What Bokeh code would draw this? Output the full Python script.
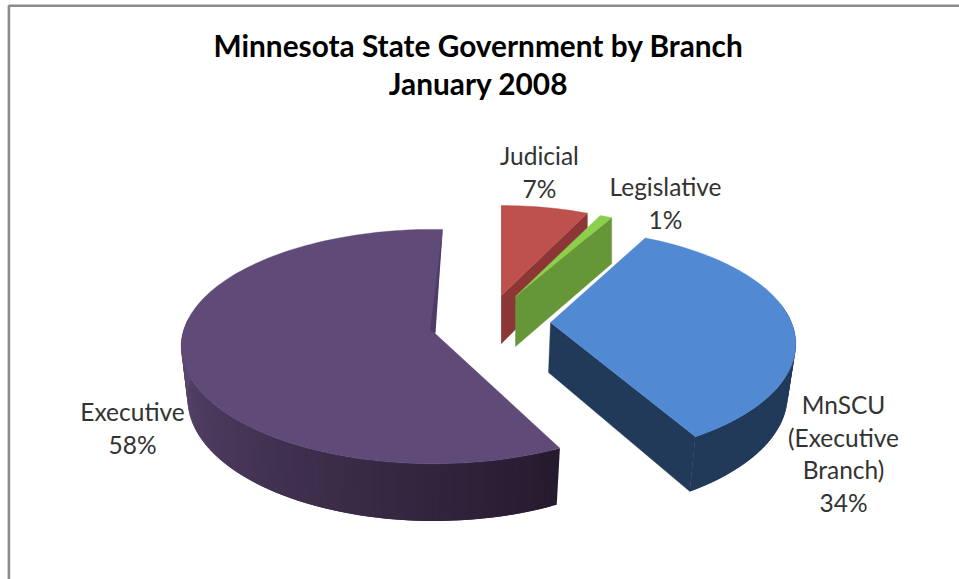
import numpy as np
from bokeh.core.properties import value
from bokeh.embed import file_html
from bokeh.models import ColumnDataSource, Range1d
from bokeh.plotting import figure
from bokeh.resources import INLINE

# Shares of state government, clockwise from twelve o'clock
categories = ["Judicial", "Legislative", "MnSCU", "Executive"]
shares = [7, 1, 34, 58]
label_lines = [["Judicial"], ["Legislative"], ["MnSCU", "(Executive", "Branch)"], ["Executive"]]
title_lines = ["Minnesota State Government by Branch", "January 2008"]

# Drawing parameters of each exploded slice: apex, radii, perspective, height,
# turn of the whole slice, and how the lower rim narrows and shifts
SLICES = {
    "Judicial": dict(ax=501, ay=295, rx=225, ry=101.5, k=0.128, h=48, turn=0, sx=1.0, dx=0,
                     top="#BE504D", side="#8C3735", wall=("#8C3735", "#8C3735"),
                     faces=("start", "end")),
    "Legislative": dict(ax=515, ay=296, rx=222, ry=100, k=0.128, h=50, turn=0, sx=1.0, dx=0,
                        top="#8CCF4D", side="#659637", wall=("#659637", "#659637"),
                        faces=("end",)),
    "MnSCU": dict(ax=550, ay=322, rx=241, ry=111, k=0.187, h=50, turn=-1.5, sx=0.975, dx=-2,
                  top="#5289D3", side="#223A5A", wall=("#223A5A", "#223A5A"),
                  faces=("end",)),
    "Executive": dict(ax=433.5, ay=332, rx=251, ry=115.5, k=0.12, h=51.5, turn=2.2, sx=0.975, dx=0,
                      top="#5F4A78", side="#4E3B66", wall=("#261A2E", "#5A466F"),
                      faces=(), notch=(-4, -2, 1.5, 1)),
}
LABEL_ANCHORS = {
    "Judicial": (539, 155),
    "Legislative": (665, 186),
    "MnSCU": (843, 404),
    "Executive": (132, 411),
}
LINE_STEP = 32.6
FONT = "Lato"
STEP = 1.5


def project(s, theta_deg, drop=0.0):
    """Place a rim point of a slice on the page; drop runs from 0 (top) to the slice height."""
    t = np.radians(theta_deg)
    w = 1 + s["k"] * np.cos(t)
    x = s["ax"] + s["rx"] * np.sin(t) / w
    y = s["ay"] - s["ry"] * np.cos(t) / w
    if drop:
        x = s["ax"] + s["dx"] + (x - s["ax"]) * s["sx"]
        y = y + drop / (1 + 0.1 * np.cos(t))
    return x, y


def mix(c0, c1, f):
    a = [int(c0[i:i + 2], 16) for i in (1, 3, 5)]
    b = [int(c1[i:i + 2], 16) for i in (1, 3, 5)]
    return "#%02x%02x%02x" % tuple(round(x + (y - x) * f) for x, y in zip(a, b))


p = figure(width=959, height=579, output_backend="svg", toolbar_location=None,
           x_range=Range1d(0, 959), y_range=Range1d(579, 0),
           x_axis_type=None, y_axis_type=None, min_border=0,
           background_fill_color="white", border_fill_color="white")
p.outline_line_color = None
p.grid.visible = False

# Frame of the chart area, open to the right and below
p.line([8.4, 8.4, 959], [579, 5.3, 5.3], line_color="#8C8C8C", line_width=2.6)

edges = np.concatenate([[0], np.cumsum(shares)]) * 3.6

for i, name in enumerate(categories):
    s = SLICES[name]
    start, end = edges[i] + s["turn"], edges[i + 1] + s["turn"]
    thetas = np.arange(start, end + 0.01, STEP)
    if thetas[-1] < end:
        thetas = np.append(thetas, end)

    # Curved outer wall: overlapping strips, dark at the cut and lighter round to the left
    xs, ys, colors = [], [], []
    for a, b in zip(thetas[:-1], thetas[1:]):
        mid = (a + b) / 2
        if np.cos(np.radians(mid)) > s["k"]:
            continue
        b2 = min(b + STEP, end)
        x0, y0 = project(s, a)
        x1, y1 = project(s, b2)
        x2, y2 = project(s, b2, s["h"])
        x3, y3 = project(s, a, s["h"])
        xs.append([x0, x1, x2, x3])
        ys.append([y0, y1, y2, y3])
        colors.append(mix(s["wall"][0], s["wall"][1], float(np.clip((mid - start) / (270 - start), 0, 1))))
    if xs:
        p.patches(xs, ys, fill_color=colors, line_color=None)

    # Radial cut faces that turn towards the viewer
    for face in s["faces"]:
        theta = start if face == "start" else end
        fx, fy = project(s, theta)
        bx, by = project(s, theta, s["h"])
        p.patch([s["ax"], fx, bx, s["ax"] + s["dx"]],
                [s["ay"], fy, by, s["ay"] + s["h"]],
                fill_color=s["side"], line_color=s["side"], line_width=0.4)

    # Top face
    rim_x, rim_y = project(s, thetas)
    p.patch(np.concatenate([[s["ax"]], rim_x]), np.concatenate([[s["ay"]], rim_y]),
            fill_color=s["top"], line_color=s["top"], line_width=0.4)

    # Thin shaded sliver along the far cut of the large slice
    if "notch" in s:
        n = s["notch"]
        fx, fy = project(s, end)
        p.patch([fx, s["ax"] + n[0], s["ax"] + n[2]],
                [fy, s["ay"] + n[1], s["ay"] + n[3]],
                fill_color=s["side"], line_color=None)

# Slice labels: name lines followed by the percentage
tx, ty, tt = [], [], []
for name, lines, share in zip(categories, label_lines, shares):
    ax, ay = LABEL_ANCHORS[name]
    for j, text in enumerate(lines + [f"{share}%"]):
        tx.append(ax)
        ty.append(ay + j * LINE_STEP)
        tt.append(text)
p.text("x", "y", "t", source=ColumnDataSource(dict(x=tx, y=ty, t=tt)),
       text_font=value(FONT), text_font_size="24.5px", text_color="#333333",
       text_align="center", text_baseline="middle")

# Two-line heading
p.text([478, 478], [45, 83], title_lines, text_font=value("Lato"), text_font_style="bold",
       text_font_size="29.8px", text_color="#000000", text_align="center", text_baseline="middle")

open("out.html", "w").write(file_html(p, INLINE))
